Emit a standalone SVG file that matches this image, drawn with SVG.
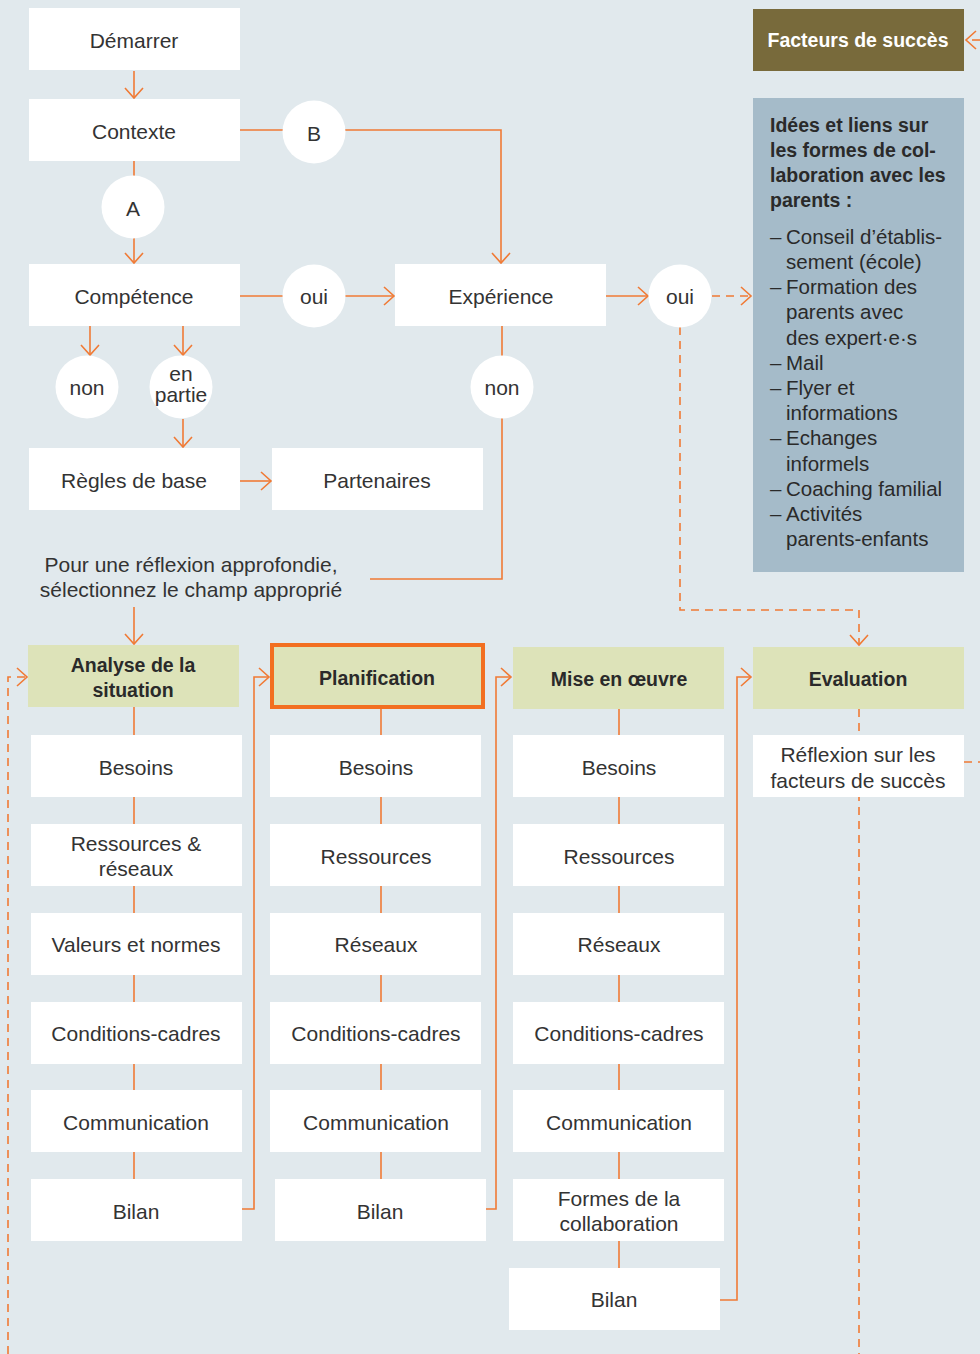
<svg xmlns="http://www.w3.org/2000/svg" width="980" height="1354" viewBox="0 0 980 1354">
<defs>
<style>
.t{font-family:"Liberation Sans",Arial,sans-serif;font-size:21px;fill:#333;text-anchor:middle}
.b{font-family:"Liberation Sans",Arial,sans-serif;font-size:19.5px;font-weight:bold;fill:#2a2a2a;text-anchor:middle}
.l{font-family:"Liberation Sans",Arial,sans-serif;font-size:20.5px;fill:#2a2a2a}
.lb{font-family:"Liberation Sans",Arial,sans-serif;font-size:19.5px;font-weight:bold;fill:#2a2a2a}
.box{fill:#ffffff}
.hd{fill:#dde3b9}
.c{fill:#ffffff}
.ln{fill:none;stroke:#f07a35;stroke-width:1.6}
.ds{fill:none;stroke:#f07a35;stroke-width:1.6;stroke-dasharray:8 6}
</style>
<marker id="ar" markerUnits="userSpaceOnUse" viewBox="-12 -11 14 22" markerWidth="14" markerHeight="22" refX="0" refY="0" orient="auto">
<path d="M-10,-9 L0,0 L-10,9" fill="none" stroke="#f07a35" stroke-width="1.6"/>
</marker>
</defs>
<rect x="0" y="0" width="980" height="1354" fill="#e1e9ed"/>

<g id="connectors">
<path class="ln" d="M134,71 V98" marker-end="url(#ar)"/>
<path class="ln" d="M134,161 V263" marker-end="url(#ar)"/>
<path class="ln" d="M240,130 H501 V263" marker-end="url(#ar)"/>
<path class="ln" d="M240,296 H394" marker-end="url(#ar)"/>
<path class="ln" d="M606,296 H648" marker-end="url(#ar)"/>
<path class="ds" d="M712,296 H751" marker-end="url(#ar)"/>
<path class="ds" d="M680,327 V610 H859 V645" marker-end="url(#ar)"/>
<path class="ln" d="M90,326 V355" marker-end="url(#ar)"/>
<path class="ln" d="M183,326 V355" marker-end="url(#ar)"/>
<path class="ln" d="M183,419 V447" marker-end="url(#ar)"/>
<path class="ln" d="M240,481 H271" marker-end="url(#ar)"/>
<path class="ln" d="M502,326 V579 H370"/>
<path class="ln" d="M134,607 V644" marker-end="url(#ar)"/>
<path class="ds" d="M980,40 H966" marker-end="url(#ar)"/>
<path class="ds" d="M964,762 H980"/>
<path class="ln" d="M134,707 V1179"/>
<path class="ln" d="M381,709 V1179"/>
<path class="ln" d="M619,709 V1268"/>
<path class="ds" d="M859,709 V1354"/>
<path class="ln" d="M242,1209 H254 V677 H269" marker-end="url(#ar)"/>
<path class="ln" d="M486,1209 H496 V677 H511" marker-end="url(#ar)"/>
<path class="ln" d="M720,1300 H737 V677 H751" marker-end="url(#ar)"/>
<path class="ds" d="M8,1354 V677 H27" marker-end="url(#ar)"/>
</g>

<g id="demarrer"><rect class="box" x="29" y="8" width="211" height="62"/><text class="t" x="134" y="48">Démarrer</text></g>
<g id="contexte"><rect class="box" x="29" y="99" width="211" height="62"/><text class="t" x="134" y="139">Contexte</text></g>
<g id="b"><circle class="c" cx="314" cy="132" r="31.5"/><text class="t" x="314" y="141">B</text></g>
<g id="a"><circle class="c" cx="133" cy="207" r="31.5"/><text class="t" x="133" y="216">A</text></g>
<g id="competence"><rect class="box" x="29" y="264" width="211" height="62"/><text class="t" x="134" y="304">Compétence</text></g>
<g id="oui1"><circle class="c" cx="314" cy="296" r="31.5"/><text class="t" x="314" y="304">oui</text></g>
<g id="experience"><rect class="box" x="395" y="264" width="211" height="62"/><text class="t" x="501" y="304">Expérience</text></g>
<g id="oui2"><circle class="c" cx="680" cy="296" r="31.5"/><text class="t" x="680" y="304">oui</text></g>
<g id="non1"><circle class="c" cx="87" cy="387" r="31.5"/><text class="t" x="87" y="395">non</text></g>
<g id="enpartie"><circle class="c" cx="181" cy="387" r="31.5"/><text class="t" x="181" y="381">en</text><text class="t" x="181" y="402">partie</text></g>
<g id="non2"><circle class="c" cx="502" cy="387" r="31.5"/><text class="t" x="502" y="395">non</text></g>
<g id="regles"><rect class="box" x="29" y="448" width="211" height="62"/><text class="t" x="134" y="488">Règles de base</text></g>
<g id="partenaires"><rect class="box" x="272" y="448" width="211" height="62"/><text class="t" x="377" y="488">Partenaires</text></g>
<g id="reflexion-note"><text class="t" x="191" y="572">Pour une réflexion approfondie,</text><text class="t" x="191" y="597">sélectionnez le champ approprié</text></g>

<g id="facteurs"><rect x="753" y="9" width="211" height="62" fill="#786a3b"/><text class="b" x="858" y="47" style="fill:#ffffff">Facteurs de succès</text></g>
<g id="idees">
<rect x="753" y="98" width="211" height="474" fill="#a5bbc9"/>
<text class="lb" x="770" y="132">Idées et liens sur</text>
<text class="lb" x="770" y="157">les formes de col-</text>
<text class="lb" x="770" y="182">laboration avec les</text>
<text class="lb" x="770" y="207">parents :</text>
<text class="l" x="770" y="244">–</text><text class="l" x="786" y="244">Conseil d’établis-</text>
<text class="l" x="786" y="269">sement (école)</text>
<text class="l" x="770" y="294">–</text><text class="l" x="786" y="294">Formation des</text>
<text class="l" x="786" y="319">parents avec</text>
<text class="l" x="786" y="345">des expert·e·s</text>
<text class="l" x="770" y="370">–</text><text class="l" x="786" y="370">Mail</text>
<text class="l" x="770" y="395">–</text><text class="l" x="786" y="395">Flyer et</text>
<text class="l" x="786" y="420">informations</text>
<text class="l" x="770" y="445">–</text><text class="l" x="786" y="445">Echanges</text>
<text class="l" x="786" y="471">informels</text>
<text class="l" x="770" y="496">–</text><text class="l" x="786" y="496">Coaching familial</text>
<text class="l" x="770" y="521">–</text><text class="l" x="786" y="521">Activités</text>
<text class="l" x="786" y="546">parents-enfants</text>
</g>

<g id="analyse"><rect class="hd" x="28" y="645" width="211" height="62"/><text class="b" x="133" y="672">Analyse de la</text><text class="b" x="133" y="697">situation</text></g>
<g id="a-besoins"><rect class="box" x="31" y="735" width="211" height="62"/><text class="t" x="136" y="775">Besoins</text></g>
<g id="a-ressources"><rect class="box" x="31" y="824" width="211" height="62"/><text class="t" x="136" y="851">Ressources &amp;</text><text class="t" x="136" y="876">réseaux</text></g>
<g id="a-valeurs"><rect class="box" x="31" y="913" width="211" height="62"/><text class="t" x="136" y="952">Valeurs et normes</text></g>
<g id="a-conditions"><rect class="box" x="31" y="1002" width="211" height="62"/><text class="t" x="136" y="1041">Conditions-cadres</text></g>
<g id="a-communication"><rect class="box" x="31" y="1090" width="211" height="62"/><text class="t" x="136" y="1130">Communication</text></g>
<g id="a-bilan"><rect class="box" x="31" y="1179" width="211" height="62"/><text class="t" x="136" y="1219">Bilan</text></g>

<g id="planification"><rect class="hd" x="272" y="645" width="211" height="62" stroke="#f26f21" stroke-width="4"/><text class="b" x="377" y="685">Planification</text></g>
<g id="p-besoins"><rect class="box" x="270" y="735" width="211" height="62"/><text class="t" x="376" y="775">Besoins</text></g>
<g id="p-ressources"><rect class="box" x="270" y="824" width="211" height="62"/><text class="t" x="376" y="864">Ressources</text></g>
<g id="p-reseaux"><rect class="box" x="270" y="913" width="211" height="62"/><text class="t" x="376" y="952">Réseaux</text></g>
<g id="p-conditions"><rect class="box" x="270" y="1002" width="211" height="62"/><text class="t" x="376" y="1041">Conditions-cadres</text></g>
<g id="p-communication"><rect class="box" x="270" y="1090" width="211" height="62"/><text class="t" x="376" y="1130">Communication</text></g>
<g id="p-bilan"><rect class="box" x="275" y="1179" width="211" height="62"/><text class="t" x="380" y="1219">Bilan</text></g>

<g id="mise"><rect class="hd" x="513" y="647" width="211" height="62"/><text class="b" x="619" y="686">Mise en œuvre</text></g>
<g id="m-besoins"><rect class="box" x="513" y="735" width="211" height="62"/><text class="t" x="619" y="775">Besoins</text></g>
<g id="m-ressources"><rect class="box" x="513" y="824" width="211" height="62"/><text class="t" x="619" y="864">Ressources</text></g>
<g id="m-reseaux"><rect class="box" x="513" y="913" width="211" height="62"/><text class="t" x="619" y="952">Réseaux</text></g>
<g id="m-conditions"><rect class="box" x="513" y="1002" width="211" height="62"/><text class="t" x="619" y="1041">Conditions-cadres</text></g>
<g id="m-communication"><rect class="box" x="513" y="1090" width="211" height="62"/><text class="t" x="619" y="1130">Communication</text></g>
<g id="m-formes"><rect class="box" x="513" y="1179" width="211" height="62"/><text class="t" x="619" y="1206">Formes de la</text><text class="t" x="619" y="1231">collaboration</text></g>
<g id="m-bilan"><rect class="box" x="509" y="1268" width="211" height="62"/><text class="t" x="614" y="1307">Bilan</text></g>

<g id="evaluation"><rect class="hd" x="753" y="647" width="211" height="62"/><text class="b" x="858" y="686">Evaluation</text></g>
<g id="e-reflexion"><rect class="box" x="753" y="735" width="211" height="62"/><text class="t" x="858" y="762">Réflexion sur les</text><text class="t" x="858" y="788">facteurs de succès</text></g>
</svg>
